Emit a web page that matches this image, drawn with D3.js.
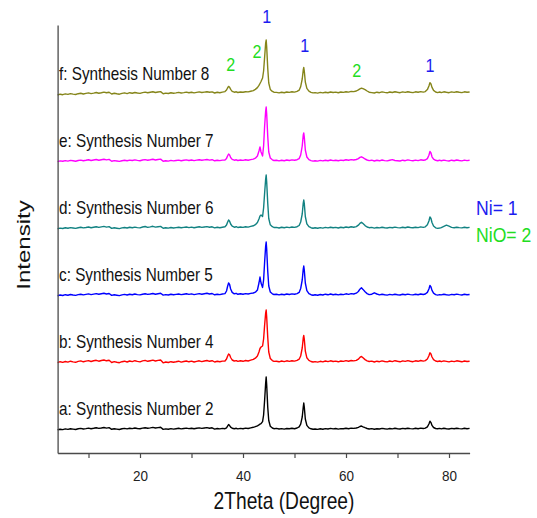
<!DOCTYPE html>
<html>
<head>
<meta charset="utf-8">
<script src="https://cdn.jsdelivr.net/npm/d3@7"></script>
<style>
  html, body { margin: 0; padding: 0; background: #ffffff; }
  svg { display: block; }
</style>
</head>
<body>
<svg id="chart" width="537" height="518"></svg>
<script>
// 2θ sampling (degrees), shared by every pattern
const twoTheta = [
  4,4.5,5,5.5,6,6.5,7,7.5,8,8.5,9,9.5,10,10.5,11,11.5,12,12.5,13,13.5,14,
  14.5,15,15.5,16,16.5,17,17.5,18,18.5,19,19.5,20,20.5,21,21.5,22,22.5,23,23.5,24,
  24.5,25,25.5,26,26.5,27,27.5,28,28.5,29,29.5,30,30.5,31,31.5,32,32.5,33,33.5,34,
  34.5,35,35.5,36,
  36.5,36.8,37.0,37.2,37.4,37.6,37.9,38.3,38.7,39.0,39.5,40.0,40.5,41.0,41.5,42.0,
  42.4,42.8,43.1,43.3,43.5,43.8,44.0,44.2,44.4,44.5,44.6,44.8,45.0,45.3,45.7,46.0,
  46.5,47.0,47.5,48.0,48.5,49.0,49.5,50.0,50.5,50.9,51.2,51.5,51.7,51.8,51.9,52.1,
  52.4,52.8,53.2,53.6,54.0,
  54.5,55,55.5,56,56.5,57,57.5,58,58.5,59,59.5,60,60.5,61,61.5,
  62.0,62.4,62.7,63.0,63.3,63.7,64.1,64.5,65.0,
  65.5,66,66.5,67,67.5,68,68.5,69,69.5,70,70.5,71,71.5,72,72.5,73,73.5,74,74.5,75,
  75.4,75.8,76.1,76.3,76.5,76.7,77.0,77.4,77.8,78.2,
  78.5,79,79.5,80,80.5,81,81.5,82,82.5,83,83.5,84
];

// Intensities (a.u.) for each synthesis
const synthesis2 = [
  0.2,0.8,0.4,1.1,0.6,1.3,0.9,0.5,1.2,1.6,1.0,1.4,1.9,1.3,1.7,2.2,1.6,2.0,2.5,1.9,2.4,
  0.7,1.3,0.9,0.5,1.2,1.6,1.1,1.8,1.4,2.0,1.5,1.2,1.9,2.3,1.7,2.1,2.6,2.0,2.4,2.8,
  0.6,1.1,0.8,1.4,0.9,1.3,1.7,1.1,1.5,1.9,1.4,1.8,1.2,1.7,2.1,1.6,2.0,2.4,1.8,2.2,
  0.9,1.5,1.1,1.6,
  1.3,2.2,3.8,5.4,4.4,2.9,1.8,1.3,1.7,1.1,1.6,1.2,1.9,1.5,2.1,2.7,
  3.3,4.2,5.1,5.8,6.3,8.4,15,30,47,53,45,23,9.5,3.8,2.0,1.3,
  1.6,1.0,1.4,0.9,1.5,1.2,1.7,1.3,2.0,3.1,5.8,13,23,27,23,11,
  4.6,2.1,1.2,0.7,1.0,
  0.6,1.2,0.8,1.4,1.0,1.6,1.1,1.5,0.9,1.4,1.2,1.8,1.3,1.9,1.6,
  2.0,2.7,3.5,4.0,3.2,2.3,1.5,1.0,1.4,
  0.8,1.3,1.0,1.6,1.2,0.9,1.5,1.1,1.7,1.3,1.0,1.6,1.2,1.8,1.4,1.1,1.7,1.3,1.9,1.5,
  1.9,3.2,6.0,8.8,7.4,4.6,2.5,1.5,1.2,1.6,
  1.1,1.7,1.3,1.0,1.6,1.2,1.8,1.4,1.1,1.7,1.3,1.6
];
const synthesis4 = [
  0.4,1.3,0.6,1.5,0.9,1.8,1.1,0.7,1.6,2.1,1.2,1.9,2.4,1.5,2.2,2.7,1.8,2.5,3.0,2.2,2.8,
  0.5,1.4,0.8,0.3,1.3,1.8,1.0,2.0,1.4,2.3,1.6,1.1,2.1,2.6,1.7,2.3,2.9,2.0,2.6,3.0,
  0.2,1.0,0.5,1.3,0.7,1.2,1.8,0.9,1.5,2.0,1.2,1.9,1.0,1.6,2.2,1.4,2.0,2.5,1.7,2.3,
  1.0,1.7,1.2,1.9,
  2.0,4.0,6.8,9.0,8.2,5.5,3.0,2.0,2.4,1.6,2.2,1.7,2.5,2.0,2.8,3.6,
  4.8,7.0,11,14.5,16,17,24,38,50,53,46,26,11,4.5,2.4,1.6,
  1.8,1.2,2.0,1.4,2.2,1.6,2.3,1.9,2.6,3.8,7,15,25,27.5,24,12,
  5.2,2.6,1.5,1.0,1.4,
  0.9,1.7,1.1,2.0,1.4,2.2,1.5,1.9,1.2,2.0,1.6,2.4,1.8,2.5,2.1,
  2.6,3.8,5.6,6.6,5.2,3.4,2.2,1.5,1.9,
  1.0,1.8,1.3,2.1,1.5,1.1,2.0,1.4,2.3,1.7,1.2,2.1,1.6,2.4,1.8,1.3,2.2,1.7,2.5,1.9,
  2.4,4.0,7.2,10.2,9.0,6.0,3.4,2.0,1.5,2.0,
  1.3,2.1,1.6,1.1,1.9,1.4,2.2,1.7,1.2,2.0,1.5,1.8
];
const synthesis5 = [
  0.3,1.0,0.5,1.3,0.8,1.5,1.0,0.6,1.4,1.8,1.1,1.6,2.1,1.4,1.9,2.4,1.7,2.2,2.7,2.0,2.5,
  0.6,1.2,0.8,0.4,1.1,1.6,1.0,1.7,1.3,2.0,1.4,1.1,1.8,2.2,1.6,2.0,2.5,1.8,2.3,2.7,
  0.9,1.4,1.0,1.7,1.2,1.6,2.0,1.4,1.8,2.2,1.6,2.1,1.4,1.9,2.4,1.8,2.3,2.7,2.0,2.5,
  1.2,1.8,1.4,2.0,
  2.4,5.0,9.5,13,11.5,7.0,3.6,2.2,2.6,1.7,2.3,1.8,2.4,2.0,2.6,3.0,
  3.8,6.0,13,19,13,8.5,16,34,50,54,47,25,10,4.0,2.2,1.5,
  1.7,1.1,1.8,1.3,2.0,1.5,2.1,1.7,2.4,3.6,7.5,16,27,30,26,13,
  5.4,2.4,1.3,0.8,1.2,
  0.8,1.5,1.0,1.8,1.2,2.0,1.3,1.7,1.1,1.8,1.4,2.2,1.6,2.4,2.0,
  2.8,4.5,6.8,8.2,6.6,4.2,2.4,1.4,1.8,
  3.2,2.0,1.1,1.7,1.2,0.9,1.6,1.1,1.8,1.3,1.0,1.7,1.2,1.9,1.4,1.1,1.8,1.3,2.0,1.5,
  2.0,3.6,7.0,10.5,9.0,5.6,2.8,1.4,0.9,1.4,
  1.1,1.8,1.3,0.9,1.6,1.2,1.9,1.4,1.0,1.7,1.3,1.5
];
const synthesis6 = [
  0.2,0.9,0.5,1.2,0.7,1.4,1.0,0.6,1.3,1.7,1.1,1.5,2.0,1.3,1.8,2.3,1.6,2.1,2.6,1.9,2.4,
  0.6,1.2,0.8,0.4,1.1,1.5,1.0,1.7,1.3,1.9,1.4,1.1,2.0,2.5,1.6,2.1,2.7,1.9,2.3,2.6,
  0.7,1.2,0.9,1.5,1.0,1.4,1.8,1.2,1.6,2.0,1.4,1.9,1.3,1.8,2.2,1.6,2.0,2.4,1.8,2.2,
  1.1,1.7,1.3,1.8,
  2.2,4.0,6.8,9.0,7.8,5.0,2.8,1.8,2.3,1.5,2.0,1.6,2.3,1.9,2.6,3.2,
  4.3,6.5,10,13,14,12.5,21,36,50,54,47,26,10.5,4.2,2.3,1.5,
  1.6,1.0,1.7,1.2,1.9,1.4,2.0,1.6,2.3,3.5,7.0,15,26,29,25.5,12.5,
  5.2,2.3,1.3,0.8,1.2,
  0.7,1.4,0.9,1.6,1.1,1.8,1.2,1.6,1.0,1.7,1.3,2.0,1.5,2.2,1.8,
  2.4,3.8,5.6,6.8,5.4,3.4,2.0,1.3,1.6,
  0.9,1.5,1.1,1.8,1.3,1.0,1.6,1.2,1.9,1.4,1.1,1.7,1.3,2.0,1.5,1.2,1.8,1.4,2.1,1.6,
  2.2,4.2,8.0,12,10.5,6.5,3.0,1.2,0.6,1.0,
  1.4,2.6,3.8,2.8,1.6,1.2,1.8,1.4,1.1,1.7,1.3,1.6
];
const synthesis7 = [
  0.4,1.1,0.7,1.4,0.9,1.6,1.2,0.8,1.5,1.9,1.3,1.7,2.2,1.5,2.0,2.5,1.8,2.3,2.8,2.1,2.6,
  0.8,1.4,1.0,0.6,1.3,1.7,1.2,1.9,1.5,2.1,1.6,1.3,2.0,2.4,1.8,2.2,2.7,2.0,2.5,2.9,
  0.7,1.3,0.9,1.6,1.1,1.5,1.9,1.3,1.7,2.1,1.5,2.0,1.4,1.9,2.3,1.7,2.1,2.5,1.9,2.3,
  1.2,1.8,1.4,1.9,
  2.0,3.6,6.0,8.0,7.0,4.5,2.6,1.8,2.2,1.5,2.0,1.6,2.2,1.8,2.4,2.9,
  3.8,6.0,11,15,10,6.0,16,36,51,55,48,26,10,4.0,2.2,1.5,
  1.7,1.1,1.8,1.3,2.0,1.5,2.1,1.7,2.3,3.4,7,16,27,29,25,12,
  5,2.3,1.4,0.9,1.3,
  0.9,1.6,1.1,1.8,1.3,2.0,1.4,1.8,1.2,1.9,1.5,2.2,1.7,2.4,2.0,
  2.5,3.4,4.6,5.2,4.4,3.0,2.0,1.4,1.8,
  1.0,1.7,1.2,2.0,1.4,1.1,1.8,2.4,1.5,1.3,1.0,1.8,1.3,2.1,1.6,1.2,1.9,1.4,2.2,1.7,
  2.0,3.4,6.8,10.5,9.0,5.2,2.8,1.7,1.3,1.8,
  1.2,1.9,1.4,1.0,1.8,1.3,2.0,1.5,1.1,1.9,1.4,1.7
];
const synthesis8 = [
  0.0,0.8,0.3,1.1,0.6,1.4,0.9,0.5,1.3,1.7,1.0,1.6,2.1,1.4,1.9,2.5,1.8,2.3,2.9,2.2,2.8,
  1.0,1.7,1.2,0.8,1.6,2.1,1.4,2.3,1.8,2.5,2.0,1.6,2.4,2.9,2.2,2.7,3.2,2.5,3.0,3.4,
  1.3,1.9,1.5,2.2,1.7,2.1,2.6,2.0,2.4,2.9,2.2,2.7,2.1,2.6,3.1,2.5,2.9,3.3,2.7,3.1,
  2.0,2.7,2.3,2.9,
  3.4,5.0,7.0,8.6,7.8,5.6,3.6,2.8,3.2,2.5,3.0,2.7,3.3,3.1,3.8,4.4,
  5.6,7.4,9.6,11.5,13.5,17,24,38,52,55,48,27,12,5.6,3.6,2.8,
  2.6,2.1,2.8,2.3,3.0,2.6,3.2,2.9,3.6,4.8,8.4,16,25,27.5,24,13,
  6.6,3.8,2.6,2.1,2.4,
  1.9,2.6,2.1,2.8,2.3,3.0,2.5,2.9,2.3,3.0,2.6,3.3,2.9,3.6,3.4,
  4.0,5.2,6.2,6.8,6.4,5.4,4.0,2.8,2.4,
  2.0,2.8,2.3,3.1,2.6,2.2,3.0,2.5,3.2,2.7,2.3,3.1,2.6,3.3,2.8,2.4,3.2,2.7,3.4,2.9,
  3.4,5.4,9.0,12.4,11,7.6,4.6,3.0,2.4,3.0,
  2.4,3.2,2.7,2.3,3.1,2.6,3.3,2.8,2.4,3.2,2.7,3.0
];

const seriesNames = [
  "a: Synthesis Number 2",
  "b: Synthesis Number 4",
  "c: Synthesis Number 5",
  "d: Synthesis Number 6",
  "e: Synthesis Number 7",
  "f: Synthesis Number 8"
];
const seriesValues = [synthesis2, synthesis4, synthesis5, synthesis6, synthesis7, synthesis8];
// vertical stacking offset of each pattern (a.u.)
const seriesOffsets = [23, 90, 157, 224, 291, 358];

const xTicks = [10, 20, 30, 40, 50, 60, 70, 80];
const xTickLabels = [20, 40, 60, 80];

// phase markers above the top pattern: 1 = Ni, 2 = NiO
const peakAngles = [37.6, 42.7, 44.6, 52.0, 62.1, 76.3];
const peakLabels = ["2", "2", "1", "1", "2", "1"];
const peakLevels = [382, 395, 430, 401, 376, 381];

const legendLabels = ["Ni= 1", "NiO= 2"];

// ---- styling ----
const FONT = "'Liberation Sans', Arial, Helvetica, sans-serif";
const lineColors = ["#000000", "#ff0000", "#0000ff", "#128282", "#ff00ff", "#85851a"];
const phaseColor = { "1": "#1c1cf0", "2": "#22dd22" };

const svg = d3.select("#chart");

const x = d3.scaleLinear().domain([4, 84]).range([57.6, 469.6]);
const y = d3.scaleLinear().domain([0, 428]).range([453, 25]);

// helper for horizontally condensed text
function label(g, str, px, py, size, sx, anchor, color) {
  return g.append("text")
    .attr("transform", `translate(${px},${py}) scale(${sx},1)`)
    .attr("text-anchor", anchor)
    .attr("font-family", FONT)
    .attr("font-size", size)
    .attr("fill", color)
    .text(str);
}

// patterns
const line = d3.line()
  .x(d => x(d[0]))
  .y(d => y(d[1]));

const plot = svg.append("g");
seriesValues.forEach((vals, i) => {
  const n = Math.min(vals.length, twoTheta.length);
  const pts = d3.range(n).map(k => [twoTheta[k], vals[k] + seriesOffsets[i]]);
  plot.append("path")
    .datum(pts)
    .attr("fill", "none")
    .attr("stroke", lineColors[i])
    .attr("stroke-width", 1.4)
    .attr("stroke-linejoin", "round")
    .attr("d", line);
});

// series names
seriesNames.forEach((name, i) => {
  label(svg, name, 59, y(seriesOffsets[i] + 1.5) - 14, 18, 0.85, "start", "#111");
});

// axes
const axisColor = "#4a4a4a";
const xAxis = svg.append("g")
  .attr("transform", `translate(0,${y(0)})`)
  .call(d3.axisBottom(x)
    .tickValues(xTicks)
    .tickSize(5)
    .tickSizeOuter(0)
    .tickFormat(d => xTickLabels.includes(d) ? String(d) : ""));
xAxis.select(".domain").attr("stroke", axisColor).attr("stroke-width", 1.3);
xAxis.selectAll(".tick line").attr("stroke", axisColor).attr("stroke-width", 1.2);
xAxis.selectAll(".tick text")
  .attr("y", 0).attr("dy", null)
  .attr("transform", "translate(0,27.5) scale(0.9,1)")
  .attr("font-family", FONT)
  .attr("font-size", 15)
  .attr("fill", "#222");

const yAxis = svg.append("g")
  .attr("transform", `translate(${x(4)},0)`)
  .call(d3.axisLeft(y).tickValues([]).tickSizeOuter(0));
yAxis.select(".domain").attr("stroke", axisColor).attr("stroke-width", 1.3);

// axis titles
label(svg, "2Theta (Degree)", 284, 509, 24, 0.8, "middle", "#111");
svg.append("text")
  .attr("transform", "translate(30,245) rotate(-90) scale(1,0.8)")
  .attr("text-anchor", "middle")
  .attr("font-family", FONT)
  .attr("font-size", 24)
  .attr("fill", "#111")
  .text("Intensity");

// phase markers
peakAngles.forEach((a, i) => {
  label(svg, peakLabels[i], x(a), y(peakLevels[i]), 19, 0.85, "middle", phaseColor[peakLabels[i]]);
});

// phase legend
legendLabels.forEach((t, i) => {
  label(svg, t, 476, 215 + i * 26.5, 21, 0.84, "start", phaseColor[String(i + 1)]);
});
</script>
</body>
</html>
